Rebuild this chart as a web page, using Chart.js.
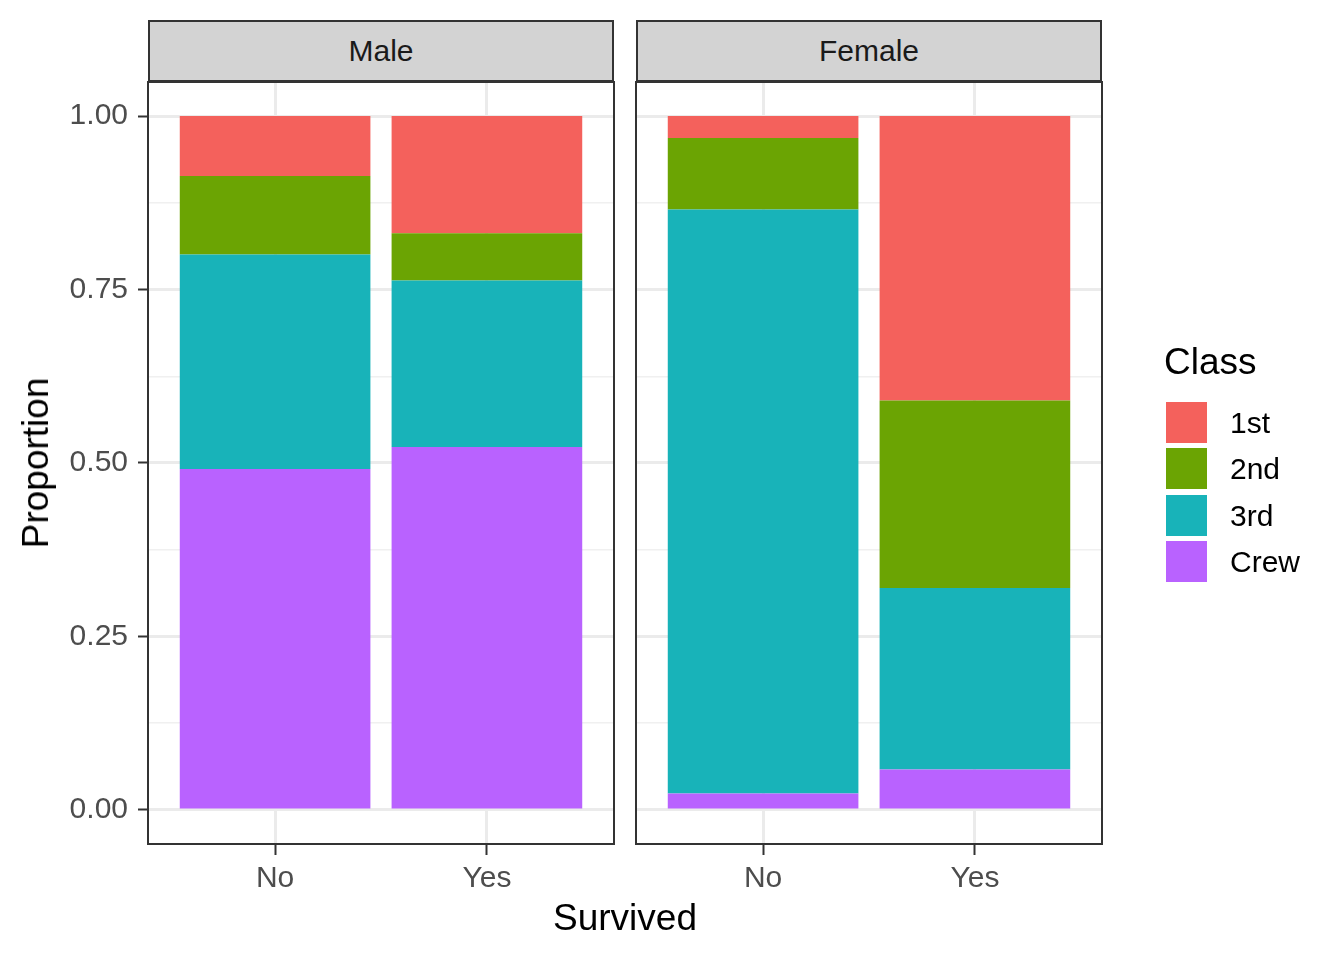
<!DOCTYPE html>
<html>
<head>
<meta charset="utf-8">
<script src="https://cdn.jsdelivr.net/npm/chart.js@4/dist/chart.umd.min.js"></script>
<style>
  html, body { margin:0; padding:0; background:#fff; }
  body { width:1344px; height:960px; position:relative; overflow:hidden; font-family:"Liberation Sans", Arial, Helvetica, sans-serif; }
  canvas { position:absolute; left:0; top:0; }
  .strip { position:absolute; top:20px; height:58px; background:#D3D3D3; border:2px solid #333; box-sizing:content-box;
           display:flex; align-items:center; justify-content:center; font-size:30px; color:#1A1A1A; z-index:2; }
  .ttl { position:absolute; font-size:37px; color:#000; white-space:nowrap; z-index:2; }
  .key { position:absolute; left:1166px; width:41px; height:41px; z-index:2; }
  .lab { position:absolute; left:1230px; font-size:30px; color:#000; line-height:41px; z-index:2; }
</style>
</head>
<body>
<canvas id="male" width="1344" height="960"></canvas>
<canvas id="female" width="1344" height="960"></canvas>

<div class="strip" style="left:148px; width:462px;">Male</div>
<div class="strip" style="left:636px; width:462px;">Female</div>
<div class="ttl" style="left:625px; top:918px; transform:translate(-50%,-50%);">Survived</div>
<div class="ttl" style="left:36px; top:463px; transform:translate(-50%,-50%) rotate(-90deg);">Proportion</div>
<div id="legend"></div>

<script>
// ---- data ----
const categories = ['No', 'Yes'];
const classes = ['1st', '2nd', '3rd', 'Crew'];
const panels = ['Male', 'Female'];
const classColors = ['#F4615C', '#6BA403', '#18B3B9', '#B962FF'];

// proportions for [No, Yes]
const maleFirst  = [0.0865, 0.1689];
const maleSecond = [0.1129, 0.0681];
const maleThird  = [0.3094, 0.2398];
const maleCrew   = [0.4912, 0.5232];

const femaleFirst  = [0.0317, 0.4099];
const femaleSecond = [0.1032, 0.2703];
const femaleThird  = [0.8413, 0.2616];
const femaleCrew   = [0.0238, 0.0582];

const yTickValues = [0, 0.125, 0.25, 0.375, 0.5, 0.625, 0.75, 0.875, 1];
const yMajorTicks = [0, 0.25, 0.5, 0.75, 1];

// ---- legend (HTML) ----
const legend = document.getElementById('legend');
const legTitle = document.createElement('div');
legTitle.className = 'ttl';
legTitle.style.left = '1164px';
legTitle.style.top = '341px';
legTitle.textContent = 'Class';
legend.appendChild(legTitle);
const keyTops = [402, 448, 495, 541];
classes.forEach((c, i) => {
  const k = document.createElement('div');
  k.className = 'key';
  k.style.top = keyTops[i] + 'px';
  k.style.background = classColors[i];
  legend.appendChild(k);
  const l = document.createElement('div');
  l.className = 'lab';
  l.style.top = keyTops[i] + 'px';
  l.textContent = c;
  legend.appendChild(l);
});

// ---- charts ----
const FONT = '"Liberation Sans", Arial, Helvetica, sans-serif';
const isMajor = v => yMajorTicks.some(m => Math.abs(m - v) < 1e-9);

const borderPlugin = {
  id: 'panelBorder',
  afterDraw(chart) {
    const a = chart.chartArea, ctx = chart.ctx;
    ctx.save();
    ctx.strokeStyle = '#333333';
    ctx.lineWidth = 2;
    ctx.strokeRect(a.left, a.top, a.right - a.left, a.bottom - a.top);
    ctx.restore();
  }
};

function makeChart(id, series, showY, padLeft, yWidth, padRight) {
  // stacking order: Crew at bottom, then 3rd, 2nd, 1st
  const order = [3, 2, 1, 0];
  const datasets = order.map(ci => ({
    label: classes[ci],
    data: categories.map((c, i) => ({ x: i + 1, y: series[ci][i] })),
    backgroundColor: classColors[ci],
    borderWidth: 0,
    inflateAmount: 0,
    categoryPercentage: 0.9,
    barPercentage: 1.0
  }));
  return new Chart(document.getElementById(id), {
    type: 'bar',
    data: { datasets },
    plugins: [borderPlugin],
    options: {
      responsive: false,
      animation: false,
      devicePixelRatio: 1,
      layout: { padding: { top: 82, left: padLeft, right: padRight, bottom: 0 } },
      plugins: { legend: { display: false }, tooltip: { enabled: false } },
      scales: {
        x: {
          type: 'linear',
          stacked: true,
          offset: false,
          min: 0.4,
          max: 2.6,
          afterBuildTicks: s => { s.ticks = categories.map((c, i) => ({ value: i + 1 })); },
          afterFit: s => { s.height = 116; },
          border: { display: false },
          grid: { offset: false, color: '#EBEBEB', lineWidth: 3, tickColor: '#333333', tickLength: 11, tickWidth: 2 },
          ticks: {
            font: { family: FONT, size: 30 },
            color: '#4D4D4D',
            padding: 6,
            maxRotation: 0,
            autoSkip: false,
            callback: v => categories[Math.round(v) - 1]
          }
        },
        y: {
          type: 'linear',
          stacked: true,
          min: -0.049,
          max: 1.049,
          afterBuildTicks: s => { s.ticks = yTickValues.map(v => ({ value: v })); },
          afterFit: s => { s.width = yWidth; },
          border: { display: false },
          grid: {
            color: c => (c.tick && isMajor(c.tick.value)) ? '#EBEBEB' : '#F0F0F0',
            lineWidth: c => (c.tick && isMajor(c.tick.value)) ? 3 : 1.5,
            drawTicks: showY,
            tickLength: 10,
            tickWidth: 2,
            tickColor: c => (c.tick && isMajor(c.tick.value)) ? '#333333' : 'rgba(0,0,0,0)'
          },
          ticks: {
            display: showY,
            font: { family: FONT, size: 30 },
            color: '#4D4D4D',
            padding: 10,
            autoSkip: false,
            callback: v => isMajor(v) ? v.toFixed(2) : ''
          }
        }
      }
    }
  });
}

makeChart('male', [maleFirst, maleSecond, maleThird, maleCrew], true, 0, 148, 1344 - 614);
makeChart('female', [femaleFirst, femaleSecond, femaleThird, femaleCrew], false, 0, 636, 1344 - 1102);
</script>
</body>
</html>
